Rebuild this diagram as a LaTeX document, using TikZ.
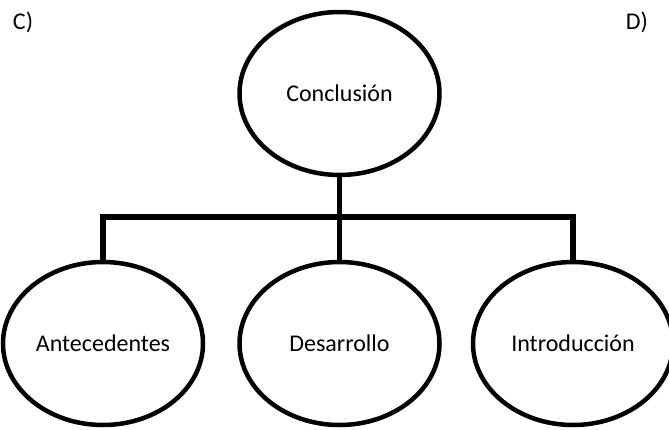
\documentclass[tikz,border=0pt]{standalone}
\usepackage{fontspec}
\setmainfont{Carlito}
\usetikzlibrary{shapes.geometric}
\begin{document}
\begin{tikzpicture}[x=1pt,y=-1pt,
  oval/.style={ellipse,draw=black,line width=4.5pt,minimum width=200pt,minimum height=163pt,inner sep=0pt,font=\fontsize{24}{28}\selectfont},
  conn/.style={draw=black,line width=5.5pt,line join=miter,line cap=butt},
  tag/.style={font=\fontsize{24}{28}\selectfont,inner sep=0pt}]
\useasboundingbox (0,0) rectangle (669,429);
\node[oval] (T) at (339.5,93.5) {Conclusión};
\node[oval] (L) at (103,343.5) {Antecedentes};
\node[oval] (M) at (339.5,343.5) {Desarrollo};
\node[oval] (R) at (573,343.5) {Introducción};
\node[tag] (C) at (23,22) {C)};
\node[tag] (D) at (637,22) {D)};
\coordinate (bar) at (339.5,217);
\draw[conn] (T.south) -- (M.north);
\draw[conn] (L.north) -- (L.north |- bar) -- (R.north |- bar) -- (R.north);
\end{tikzpicture}
\end{document}
